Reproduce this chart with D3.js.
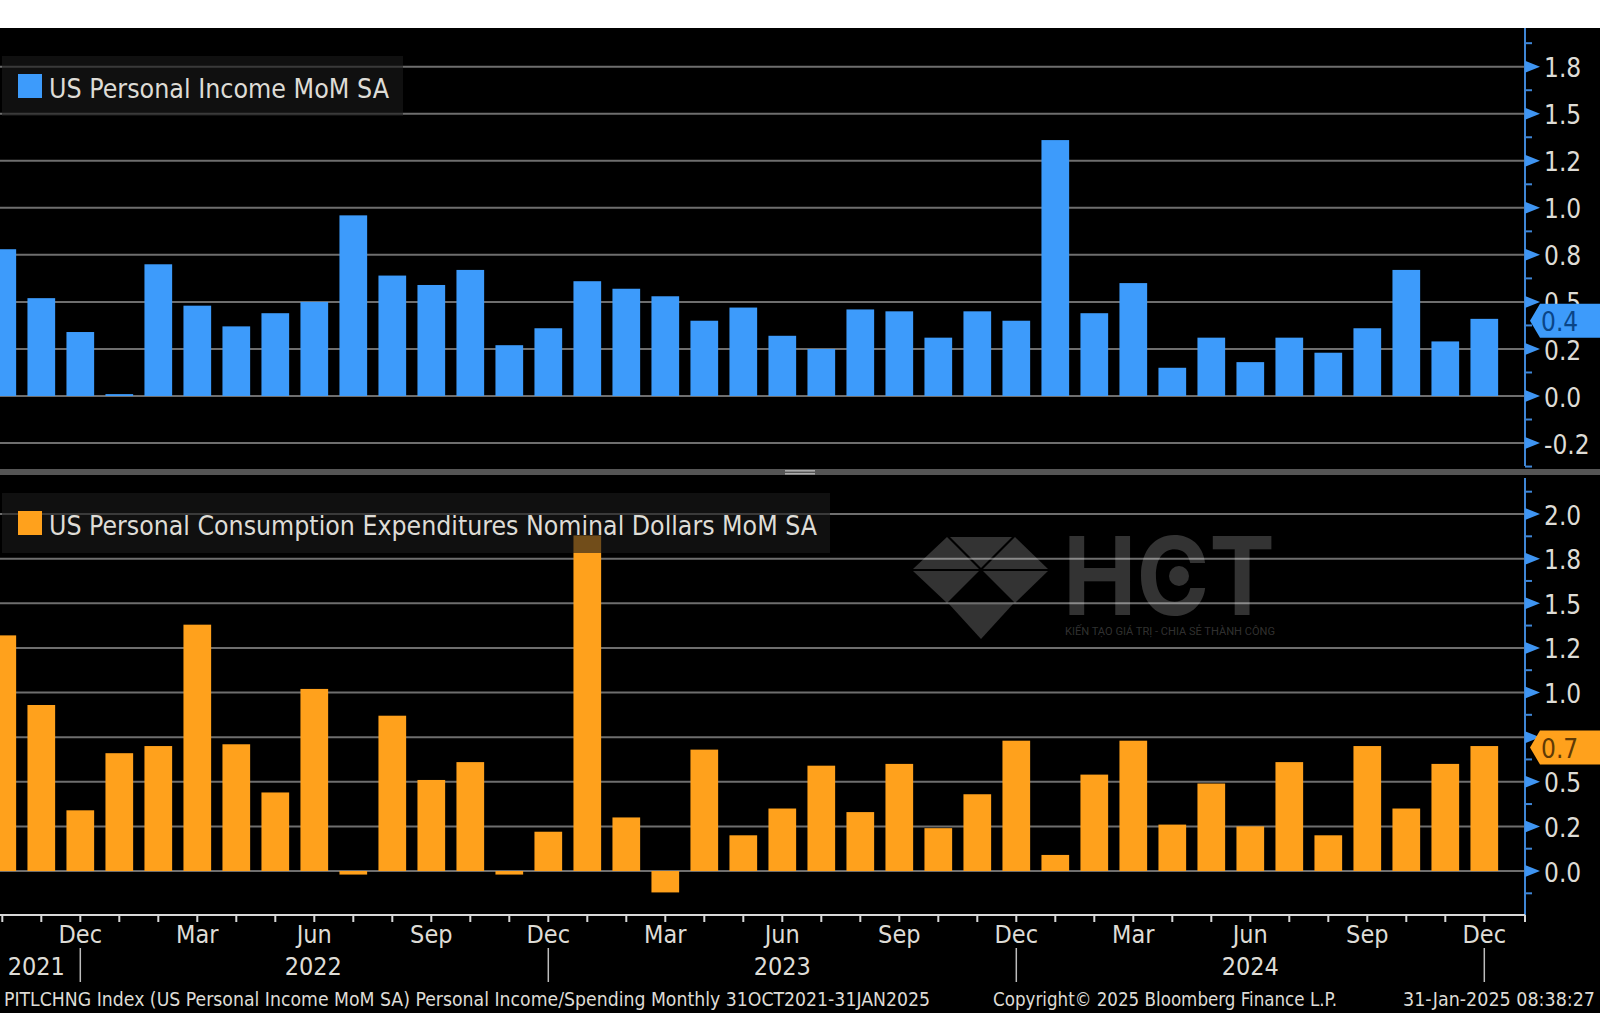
<!DOCTYPE html>
<html><head><meta charset="utf-8">
<script src="https://cdn.jsdelivr.net/npm/d3@7"></script>
<style>
html,body{margin:0;padding:0;background:#000;}
svg{display:block;}
text{font-family:"DejaVu Sans",sans-serif;font-stretch:condensed;fill:#dedcd6;}
</style></head><body>
<svg id="chart" width="1600" height="1013"></svg>
<script>
const months = ["Oct 2021","Nov 2021","Dec 2021","Jan 2022","Feb 2022","Mar 2022","Apr 2022","May 2022","Jun 2022","Jul 2022","Aug 2022","Sep 2022","Oct 2022","Nov 2022","Dec 2022","Jan 2023","Feb 2023","Mar 2023","Apr 2023","May 2023","Jun 2023","Jul 2023","Aug 2023","Sep 2023","Oct 2023","Nov 2023","Dec 2023","Jan 2024","Feb 2024","Mar 2024","Apr 2024","May 2024","Jun 2024","Jul 2024","Aug 2024","Sep 2024","Oct 2024","Nov 2024","Dec 2024"];
const incomeValues = [0.78,0.52,0.34,0.01,0.70,0.48,0.37,0.44,0.50,0.96,0.64,0.59,0.67,0.27,0.36,0.61,0.57,0.53,0.40,0.47,0.32,0.25,0.46,0.45,0.31,0.45,0.40,1.36,0.44,0.60,0.15,0.31,0.18,0.31,0.23,0.36,0.67,0.29,0.41];
const spendingValues = [1.32,0.93,0.34,0.66,0.70,1.38,0.71,0.44,1.02,-0.02,0.87,0.51,0.61,-0.02,0.22,1.88,0.30,-0.12,0.68,0.20,0.35,0.59,0.33,0.60,0.24,0.43,0.73,0.09,0.54,0.73,0.26,0.49,0.25,0.61,0.20,0.70,0.35,0.60,0.70];
const incomeTicks = [1.75,1.5,1.25,1,0.75,0.5,0.25,0,-0.25];
const incomeTickLabels = ["1.8","1.5","1.2","1.0","0.8","0.5","0.2","0.0","-0.2"];
const incomeMinor = [1.875,1.625,1.375,1.125,0.875,0.625,0.375,0.125,-0.125,-0.375];
const spendingTicks = [2,1.75,1.5,1.25,1,0.75,0.5,0.25,0];
const spendingTickLabels = ["2.0","1.8","1.5","1.2","1.0","","0.5","0.2","0.0"];
const spendingMinor = [2.125,1.875,1.625,1.375,1.125,0.875,0.625,0.375,0.125,-0.125];
const quarterNames = ["Mar","Jun","Sep","Dec"];
const yearLabels = [["2021","Nov 2021",-6],["2022","Jun 2022",-2],["2023","Jun 2023",-1],["2024","Jun 2024",-1]];
const yearDividers = ["Dec 2021","Dec 2022","Dec 2023","Dec 2024"];
const footerLeft = "PITLCHNG Index (US Personal Income MoM SA) Personal Income/Spending  Monthly 31OCT2021-31JAN2025";
const footerMid = "Copyright\u00A9 2025 Bloomberg Finance L.P.";
const footerRight = "31-Jan-2025 08:38:27";

const BLUE="#3d9bfb", ORANGE="#ffa11c", GRID="#6e6e6e", AXIS="#3f86d6", MARK="#3f95f2";
const svg=d3.select("#chart");
const axisX=1525;
svg.append("rect").attr("width",1600).attr("height",1013).attr("fill","#000");
svg.append("rect").attr("width",1600).attr("height",28).attr("fill","#fff");

const x=d3.scaleBand().domain(months).range([-17.2,1503.8]).paddingInner(0.29).paddingOuter(0.145);

function panel(o){
  const y=d3.scaleLinear().domain([0,o.refV]).range([o.zero,o.refY]);
  const g=svg.append("g");
  g.append("g").selectAll("line").data(o.ticks).join("line")
    .attr("x1",0).attr("x2",axisX).attr("y1",y).attr("y2",y)
    .attr("stroke",GRID).attr("stroke-width",2);
  g.append("g").selectAll("rect").data(o.values).join("rect")
    .attr("x",(d,i)=>x(months[i])).attr("width",x.bandwidth())
    .attr("y",d=>Math.min(y(d),y(0))).attr("height",d=>Math.abs(y(d)-y(0)))
    .attr("fill",o.color);
  if(o.afterBars) o.afterBars();
  g.append("line").attr("x1",axisX).attr("x2",axisX).attr("y1",o.top).attr("y2",o.bottom).attr("stroke",AXIS).attr("stroke-width",2);
  g.append("g").selectAll("line").data(o.minor).join("line")
    .attr("x1",axisX).attr("x2",axisX+7).attr("y1",y).attr("y2",y).attr("stroke",AXIS).attr("stroke-width",2);
  g.append("g").selectAll("path").data(o.ticks).join("path")
    .attr("transform",d=>`translate(${axisX},${y(d)})`)
    .attr("d","M0,-6L15,0L0,6Z").attr("fill",MARK);
  const ax=d3.axisRight(y).tickValues(o.ticks).tickFormat((d,i)=>o.labels[i]).tickSize(0).tickPadding(0);
  const ag=g.append("g").attr("transform",`translate(${axisX+19},0.7)`).call(ax);
  ag.select(".domain").remove();
  ag.selectAll("text").attr("font-size",26).style("fill","#dedcd6").attr("dy","0.36em");
  const lg=g.append("g");
  lg.append("rect").attr("x",2).attr("y",o.legY).attr("width",o.legW).attr("height",60).attr("fill","rgba(26,26,26,0.62)");
  lg.append("rect").attr("x",18).attr("y",o.legY+18).attr("width",24).attr("height",24).attr("fill",o.color);
  lg.append("text").attr("x",49).attr("y",o.legY+42).attr("font-size",27)
    .attr("textLength",o.legTextW).attr("lengthAdjust","spacingAndGlyphs").text(o.title);
  const ty=y(o.last);
  const tag=g.append("g").attr("transform",`translate(0,${ty+o.tagShift})`);
  tag.append("path").attr("d",`M1530,0L1540,-17L1600,-17L1600,17L1540,17Z`).attr("fill",o.color);
  tag.append("text").attr("x",1541).attr("y",10).attr("font-size",26).style("fill",o.tagText).text(o.lastLabel);
}

function watermark(){
  const w=svg.append("g").attr("fill","#fff").attr("fill-opacity",0.2);
  [[[947,537],[913,569],[979,569]],[[1015,537],[983,569],[1048,569]],[[950,537],[1012,537],[981,568]],
   [[913,571],[979,571],[947,603]],[[983,571],[1048,571],[1015,603]],[[949,604],[1013,604],[981,639]]]
   .forEach(p=>w.append("polygon").attr("points",p.join(" ")));
  w.append("text").attr("x",1063).attr("y",615).attr("font-size",108).attr("textLength",212)
    .attr("lengthAdjust","spacingAndGlyphs").style("font-family","Inter,Roboto,sans-serif").style("font-weight",700).style("font-stretch","normal").style("fill","#fff").text("HCT");
  w.append("circle").attr("cx",1179).attr("cy",576).attr("r",10);
  w.append("text").attr("x",1065).attr("y",635).attr("font-size",10).attr("textLength",210)
    .attr("lengthAdjust","spacingAndGlyphs").style("font-family","Roboto,sans-serif").style("font-stretch","normal").style("fill","#fff").text("KIẾN TẠO GIÁ TRỊ - CHIA SẺ THÀNH CÔNG");
}

panel({values:incomeValues,ticks:incomeTicks,labels:incomeTickLabels,minor:incomeMinor,color:BLUE,
  zero:396,refV:1.75,refY:66.7,top:28,bottom:466,legY:56,legW:401,legTextW:340,
  title:"US Personal Income MoM SA",last:0.4,lastLabel:"0.4",tagText:"#0a4587",tagShift:0});
panel({values:spendingValues,ticks:spendingTicks,labels:spendingTickLabels,minor:spendingMinor,color:ORANGE,
  zero:871,refV:2,refY:514,top:478,bottom:915,legY:493,legW:828,legTextW:768,
  title:"US Personal Consumption Expenditures Nominal Dollars MoM SA",last:0.7,lastLabel:"0.7",tagText:"#5f3a05",tagShift:1.5,afterBars:watermark});

// separator
svg.append("rect").attr("x",0).attr("y",469).attr("width",1600).attr("height",6).attr("fill","#555");
svg.append("rect").attr("x",785).attr("y",470).attr("width",30).attr("height",1.6).attr("fill","#aaa");
svg.append("rect").attr("x",785).attr("y",473).attr("width",30).attr("height",1.6).attr("fill","#aaa");

// bottom axis
const bx=svg.append("g").attr("transform","translate(0,915)")
  .call(d3.axisBottom(x).tickValues(months).tickSize(7).tickSizeOuter(0).tickPadding(3)
    .tickFormat(m=>quarterNames.includes(m.slice(0,3))?m.slice(0,3):""));
bx.select(".domain").remove();
bx.selectAll("line").attr("stroke","#d8d8d8").attr("stroke-width",2);
bx.selectAll("text").attr("font-size",25).style("fill","#dedcd6");
svg.append("line").attr("x1",0).attr("x2",axisX).attr("y1",915).attr("y2",915).attr("stroke","#d8d8d8").attr("stroke-width",2);
svg.append("line").attr("x1",axisX).attr("x2",axisX).attr("y1",915).attr("y2",922).attr("stroke","#d8d8d8").attr("stroke-width",2);

const cx=m=>x(m)+x.bandwidth()/2;
svg.append("g").selectAll("line").data(yearDividers).join("line")
  .attr("x1",cx).attr("x2",cx).attr("y1",948).attr("y2",982).attr("stroke","#bdbdbd").attr("stroke-width",1.5);
svg.append("g").selectAll("text").data(yearLabels).join("text")
  .attr("x",d=>cx(d[1])+d[2]+1).attr("y",975).attr("text-anchor","middle").attr("font-size",25).text(d=>d[0]);

// footer
[[footerLeft,4,926],[footerMid,993,344],[footerRight,1403,192]].forEach(([t,fx,w])=>{
  svg.append("text").attr("x",fx).attr("y",1006).attr("font-size",19)
    .attr("textLength",w).attr("lengthAdjust","spacingAndGlyphs").text(t);
});
</script></body></html>
